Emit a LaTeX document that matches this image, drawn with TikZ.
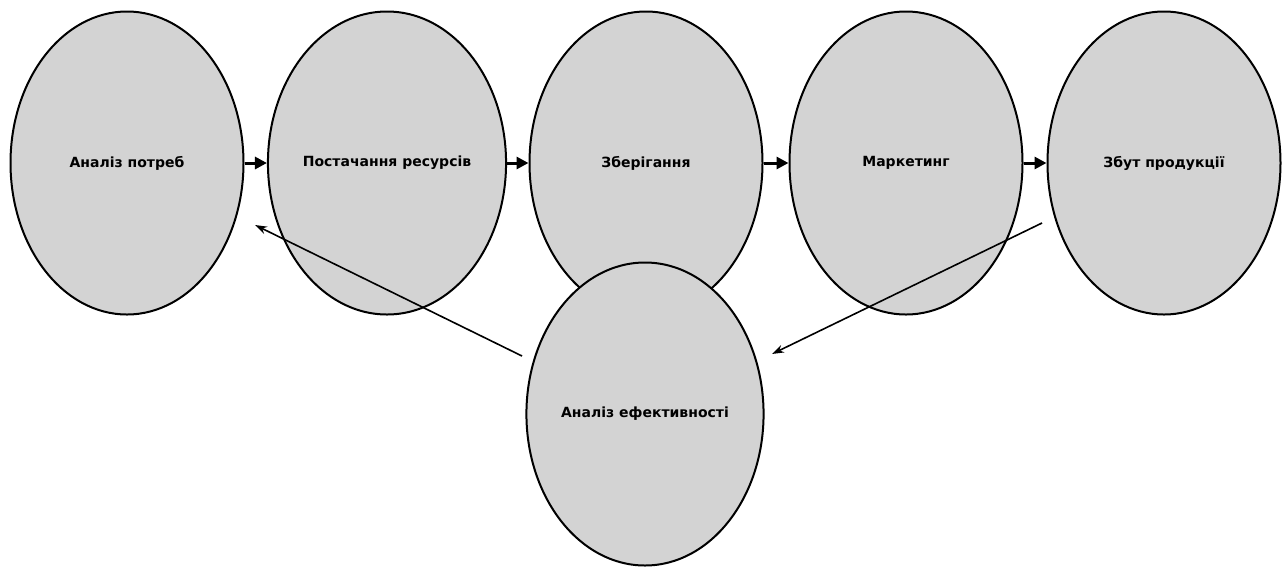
\documentclass[tikz,border=0pt]{standalone}
\usepackage{fontspec}
\setmainfont{DejaVu Sans}
\usetikzlibrary{shapes.geometric,arrows.meta}
\definecolor{ellfill}{RGB}{211,211,211}
\begin{document}
\begin{tikzpicture}[x=1pt,y=-1pt,
  stage/.style={ellipse,draw=black,line width=2pt,fill=ellfill,minimum width=233pt,minimum height=303pt,inner sep=0pt,font=\fontsize{14}{16}\selectfont\bfseries},
  flow/.style={line width=3pt,-{Triangle[length=12pt,width=12pt]}},
  back/.style={line width=1.6pt,-{Stealth[length=12pt,width=8pt]}}]
\useasboundingbox (0,0) rectangle (1288,566);
\node[stage] (e1) at (127,163) {Аналіз потреб};
\node[stage] (e2) at (387,163) {Постачання ресурсів};
\node[stage] (e3) at (646,163) {Зберігання};
\node[stage] (e4) at (906,163) {Маркетинг};
\node[stage] (e5) at (1164,163) {Збут продукції};
\node[stage] (e6) at (645,414) {Аналіз ефективності};
\draw[flow] (e1.east) -- (e2.west);
\draw[flow] (e2.east) -- (e3.west);
\draw[flow] (e3.east) -- (e4.west);
\draw[flow] (e4.east) -- (e5.west);
\coordinate (b1s) at (522,356);
\coordinate (b1e) at (255,225);
\coordinate (b2s) at (1042,223);
\coordinate (b2e) at (772,354);
\draw[back] (b1s) -- (b1e);
\draw[back] (b2s) -- (b2e);
\end{tikzpicture}
\end{document}
